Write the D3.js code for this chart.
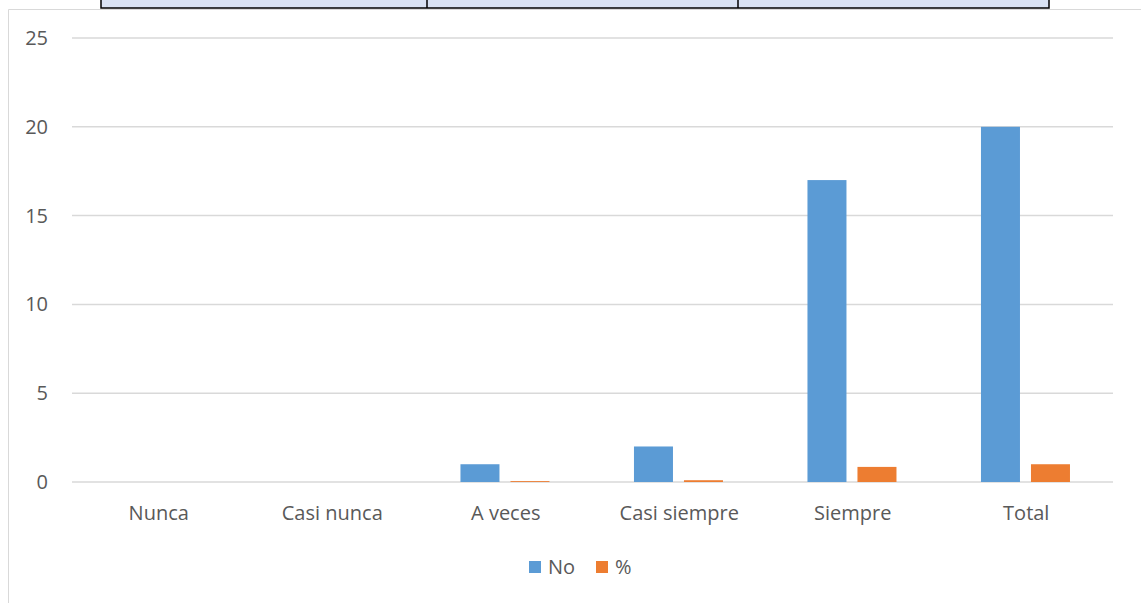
<!DOCTYPE html>
<html>
<head>
<meta charset="utf-8">
<script src="https://cdn.jsdelivr.net/npm/d3@7"></script>
<style>
  body { margin: 0; background: #fff; }
  text { font-family: "Open Sans", "Noto Sans", sans-serif; fill: #595959; }
</style>
</head>
<body>
<div id="chart"></div>
<script>
// Chart data
var categories = ["Nunca", "Casi nunca", "A veces", "Casi siempre", "Siempre", "Total"];
var noValues = [0, 0, 1, 2, 17, 20];
var pctValues = [0, 0, 0.05, 0.1, 0.85, 1];
var seriesNames = ["No", "%"];
var yTicks = [0, 5, 10, 15, 20, 25];

var svgWidth = 1141;
var svgHeight = 603;

var margin = { top: 38, bottom: 121, left: 72, right: 28 };
var width = svgWidth - margin.left - margin.right;
var height = svgHeight - margin.top - margin.bottom;

var colors = { "No": "#5B9BD5", "%": "#ED7D31" };

var svg = d3.select("#chart")
    .append("svg")
    .attr("width", svgWidth)
    .attr("height", svgHeight);

// Outer chart frame (left and top edges visible)
svg.append("path")
    .attr("d", "M8.5,603 V9.5 H1141")
    .attr("fill", "none")
    .attr("stroke", "#D9D9D9")
    .attr("stroke-width", 1);

// Table row fragment at top of page
var tableCols = [101, 427, 738, 1049];
svg.append("rect")
    .attr("x", tableCols[0])
    .attr("y", -2)
    .attr("width", tableCols[3] - tableCols[0])
    .attr("height", 10)
    .attr("fill", "#D9E2F3")
    .attr("stroke", "#000")
    .attr("stroke-width", 1.5);
svg.selectAll(".tdiv")
    .data(tableCols.slice(1, 3))
    .enter()
    .append("line")
    .attr("x1", d => d).attr("x2", d => d)
    .attr("y1", 0).attr("y2", 8)
    .attr("stroke", "#000")
    .attr("stroke-width", 1.5);

var chartGroup = svg.append("g")
    .attr("transform", `translate(${margin.left}, ${margin.top})`);

// Scales
var x0 = d3.scaleBand()
    .domain(categories)
    .range([0, width]);
var x1 = d3.scaleBand()
    .domain(seriesNames)
    .range([x0.bandwidth() * 0.239, x0.bandwidth() * 0.752])
    .paddingInner(0.22);
var y = d3.scaleLinear()
    .domain([0, 25])
    .range([height, 0]);

// Gridlines
chartGroup.selectAll(".grid")
    .data(yTicks)
    .enter()
    .append("line")
    .attr("x1", 0)
    .attr("x2", width)
    .attr("y1", d => y(d))
    .attr("y2", d => y(d))
    .attr("stroke", "#D9D9D9")
    .attr("stroke-width", 1.5);

// Y axis labels
var leftAxis = d3.axisLeft(y).tickValues(yTicks).tickSize(0).tickPadding(24);
var yAxis = chartGroup.append("g").call(leftAxis);
yAxis.select(".domain").remove();
yAxis.selectAll("text")
    .style("font-size", "20px")
    .attr("fill", "#595959");

// X axis labels
var bottomAxis = d3.axisBottom(x0).tickSize(0).tickPadding(24);
var xAxis = chartGroup.append("g")
    .attr("transform", `translate(0, ${height})`)
    .call(bottomAxis);
xAxis.select(".domain").remove();
xAxis.selectAll("text")
    .style("font-size", "20px")
    .attr("fill", "#595959");

// Bars
var rows = categories.map((c, i) => ({ cat: c, values: [noValues[i], pctValues[i]] }));
var groups = chartGroup.selectAll(".cat")
    .data(rows)
    .enter()
    .append("g")
    .attr("transform", d => `translate(${x0(d.cat)}, 0)`);

groups.selectAll("rect")
    .data(d => d.values.map((v, j) => ({ key: seriesNames[j], value: v })))
    .enter()
    .append("rect")
    .attr("x", d => x1(d.key))
    .attr("width", x1.bandwidth())
    .attr("y", d => y(d.value))
    .attr("height", d => height - y(d.value))
    .attr("fill", d => colors[d.key]);

// Legend
var legend = svg.append("g")
    .attr("transform", "translate(529, 567)");
var legendItems = legend.selectAll(".leg")
    .data(seriesNames)
    .enter()
    .append("g")
    .attr("transform", (d, i) => `translate(${i * 67}, 0)`);
legendItems.append("rect")
    .attr("x", 0)
    .attr("y", -6)
    .attr("width", 12)
    .attr("height", 12)
    .attr("fill", d => colors[d]);
legendItems.append("text")
    .attr("x", 19)
    .attr("y", 0)
    .attr("dy", "0.35em")
    .style("font-size", "20px")
    .text(d => d);
</script>
</body>
</html>
